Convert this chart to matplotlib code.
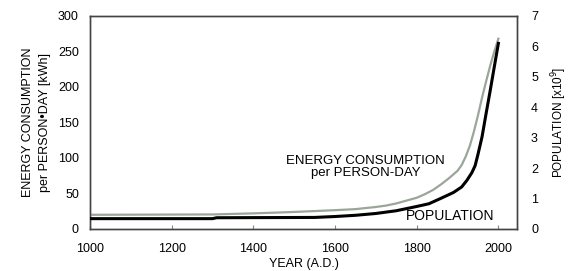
import matplotlib.pyplot as plt

plt.rcParams['font.family'] = ['Liberation Sans', 'DejaVu Sans']

# energy consumption per person-day [kWh]
energy_years = [1000, 1300, 1400, 1500, 1600, 1650, 1700, 1725, 1750, 1775, 1800,
                1820, 1840, 1860, 1880, 1900, 1910, 1920, 1930, 1940, 1950,
                1960, 1970, 1980, 1990, 2000]
energy = [20, 20.5, 22, 24, 26.5, 28, 31, 33, 36, 40, 44,
          49, 55, 63, 72, 82, 90, 102, 117, 137, 160,
          185, 208, 230, 250, 268]

# world population [x10^9]
pop_years = [1000, 1300, 1310, 1550, 1600, 1650, 1700, 1750, 1800, 1830, 1858,
             1890, 1910, 1923, 1935, 1943, 1950, 1960, 1970, 1980, 1990, 2000]
population = [0.34, 0.34, 0.37, 0.38, 0.41, 0.45, 0.51, 0.60, 0.74, 0.83, 1.0,
              1.2, 1.38, 1.6, 1.85, 2.08, 2.45, 3.03, 3.8, 4.55, 5.33, 6.1]

fig = plt.figure(figsize=(5.68, 2.71), dpi=100)
ax = fig.add_axes([0.1585, 0.155, 0.752, 0.786])
ax2 = ax.twinx()

ax.plot(energy_years, energy, color='#9aa69a', lw=1.6, zorder=3)
ax2.plot(pop_years, population, color='black', lw=2.2, zorder=3)

ax.set_xlim(1000, 2046)
ax.set_ylim(0, 300)
ax2.set_ylim(0, 7)
ax.set_xticks(range(1000, 2001, 200))
ax.set_yticks(range(0, 301, 50))
ax2.set_yticks(range(0, 8))

for a in (ax, ax2):
    for s in a.spines.values():
        s.set_color('#444444')
        s.set_linewidth(1.0)
ax.tick_params(axis='x', direction='in', length=3, color='#888888', labelsize=9, pad=10)
ax.tick_params(axis='y', length=0, labelsize=9, pad=8)
ax2.tick_params(axis='y', length=0, labelsize=9, pad=10)

ax.set_xlabel('YEAR (A.D.)', fontsize=9, labelpad=2)
ax.set_ylabel('ENERGY CONSUMPTION\nper PERSON\u2022DAY [kWh]', fontsize=9,
              linespacing=1.5, labelpad=5)
ax2.set_ylabel('POPULATION [x10$^9$]', fontsize=8.5, labelpad=8)

ax.text(1674, 87, 'ENERGY CONSUMPTION\nper PERSON-DAY', ha='center', va='center',
        fontsize=9.5, linespacing=1.0)
ax.text(1990, 19, 'POPULATION', ha='right', va='center', fontsize=10)

fig.savefig('out.png', dpi=100)
